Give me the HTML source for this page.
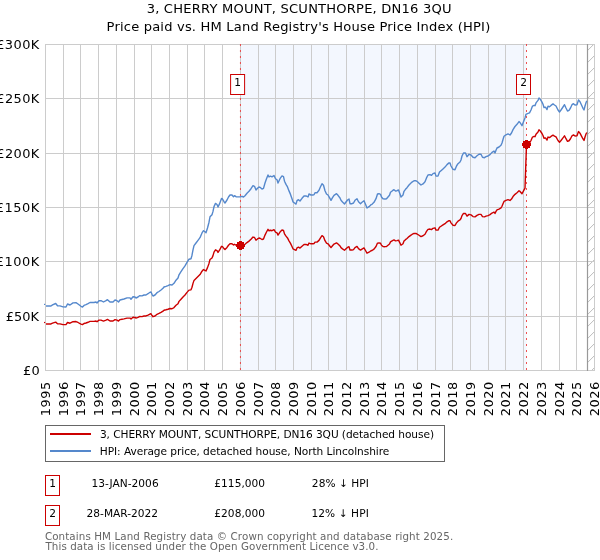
<!DOCTYPE html>
<html><head><meta charset="utf-8"><title>3, CHERRY MOUNT, SCUNTHORPE, DN16 3QU</title>
<style>html,body{margin:0;padding:0;background:#fff;}svg{display:block;}text{font-family:"DejaVu Sans","Liberation Sans",sans-serif;}</style>
</head><body>
<svg width="600" height="560" viewBox="0 0 600 560">
<rect x="0" y="0" width="600" height="560" fill="#fff"/>
<text transform="translate(146.65,12.85) scale(1.09,1)" font-size="12" letter-spacing="0.180" fill="#000">3, CHERRY MOUNT, SCUNTHORPE, DN16 3QU</text>
<text transform="translate(106.59,30.85) scale(1.09,1)" font-size="12" letter-spacing="0.161" fill="#000">Price paid vs. HM Land Registry's House Price Index (HPI)</text>
<rect x="240.45" y="44.5" width="286.05" height="326" fill="#f3f7fe"/>
<path d="M587.50,50.60 L593.60,44.50 M587.50,62.60 L594.50,55.60 M587.50,74.60 L594.50,67.60 M587.50,86.60 L594.50,79.60 M587.50,98.60 L594.50,91.60 M587.50,110.60 L594.50,103.60 M587.50,122.60 L594.50,115.60 M587.50,134.60 L594.50,127.60 M587.50,146.60 L594.50,139.60 M587.50,158.60 L594.50,151.60 M587.50,170.60 L594.50,163.60 M587.50,182.60 L594.50,175.60 M587.50,194.60 L594.50,187.60 M587.50,206.60 L594.50,199.60 M587.50,218.60 L594.50,211.60 M587.50,230.60 L594.50,223.60 M587.50,242.60 L594.50,235.60 M587.50,254.60 L594.50,247.60 M587.50,266.60 L594.50,259.60 M587.50,278.60 L594.50,271.60 M587.50,290.60 L594.50,283.60 M587.50,302.60 L594.50,295.60 M587.50,314.60 L594.50,307.60 M587.50,326.60 L594.50,319.60 M587.50,338.60 L594.50,331.60 M587.50,350.60 L594.50,343.60 M587.50,362.60 L594.50,355.60 M591.60,370.50 L594.50,367.60" stroke="#aaaaaa" stroke-width="0.8" fill="none"/>
<path d="M45.5,44 V371 M63.5,44 V371 M80.5,44 V371 M98.5,44 V371 M116.5,44 V371 M134.5,44 V371 M151.5,44 V371 M169.5,44 V371 M187.5,44 V371 M204.5,44 V371 M222.5,44 V371 M240.5,44 V371 M258.5,44 V371 M275.5,44 V371 M293.5,44 V371 M311.5,44 V371 M328.5,44 V371 M346.5,44 V371 M364.5,44 V371 M381.5,44 V371 M399.5,44 V371 M417.5,44 V371 M435.5,44 V371 M452.5,44 V371 M470.5,44 V371 M488.5,44 V371 M505.5,44 V371 M523.5,44 V371 M541.5,44 V371 M559.5,44 V371 M576.5,44 V371 M594.5,44 V371 M45,370.5 H595 M45,316.5 H595 M45,261.5 H595 M45,207.5 H595 M45,153.5 H595 M45,98.5 H595 M45,44.5 H595" stroke="#cccccc" stroke-width="1" fill="none"/>
<path d="M587.5,44 V371" stroke="#999999" stroke-width="1.2"/>
<path d="M240.45,44 V371" stroke="#ee3333" stroke-width="1" stroke-dasharray="2,4" stroke-dashoffset="0" opacity="0.85"/>
<path d="M526.5,44 V371" stroke="#ee3333" stroke-width="1" stroke-dasharray="2,4" stroke-dashoffset="0" opacity="0.85"/>
<polyline points="46.0,306.00 51.0,306.00 52.5,304.90 55.7,303.50 57.5,305.70 60.0,305.90 63.0,306.90 66.0,307.00 67.5,304.00 70.0,305.00 73.0,302.90 76.0,302.70 78.0,304.00 81.0,306.30 82.5,307.00 84.0,305.40 86.0,304.70 88.0,303.70 90.0,302.50 94.0,302.50 96.0,302.00 97.0,303.00 99.0,300.70 101.0,300.70 103.5,302.00 106.0,300.70 107.5,299.70 110.0,302.00 113.0,302.00 115.0,300.00 117.0,300.70 118.5,302.00 120.0,300.00 122.0,299.50 124.0,299.00 127.0,297.90 130.0,297.90 131.0,299.20 133.0,296.70 135.0,297.00 136.0,298.00 138.0,297.00 139.5,295.80 142.0,295.90 144.0,295.00 146.0,295.00 148.0,293.70 150.0,292.30 151.0,291.90 152.0,294.30 153.0,296.00 155.0,295.00 157.0,292.70 159.0,291.50 161.0,290.00 163.0,288.30 164.0,287.00 166.0,286.40 168.0,285.70 170.0,284.60 172.0,285.00 174.0,283.30 176.0,280.20 178.0,278.00 179.0,274.80 181.0,271.70 183.0,268.60 185.0,265.90 187.0,262.30 189.0,259.20 191.0,258.75 192.0,255.20 193.0,249.80 194.0,245.70 196.0,243.00 198.0,240.40 200.0,237.70 202.0,232.90 203.5,230.70 205.0,231.80 206.0,232.70 207.5,228.00 209.0,222.20 210.0,216.80 212.0,214.70 213.0,211.40 214.0,206.60 215.5,203.40 217.0,204.50 218.0,207.00 219.5,203.90 221.5,198.50 222.5,199.00 224.0,201.70 225.0,203.00 227.0,200.00 228.5,197.00 230.0,195.00 232.0,195.00 233.5,196.70 234.5,195.70 236.0,196.70 238.0,196.90 240.0,196.90 242.0,196.30 243.5,197.00 245.0,195.70 247.0,193.30 249.0,191.30 251.0,188.70 253.0,185.70 254.5,186.30 256.0,190.00 257.5,188.30 259.0,187.00 260.0,187.30 262.0,189.10 263.5,188.40 265.0,183.00 266.5,178.70 268.0,175.00 269.0,176.90 270.5,176.20 272.0,176.90 274.0,175.50 275.5,178.70 277.0,179.80 278.0,183.00 280.0,178.70 282.0,175.90 283.5,176.60 284.5,181.20 286.0,184.40 287.5,186.90 289.0,190.90 290.5,194.40 292.0,198.70 293.0,201.90 294.5,203.00 296.0,204.10 297.0,200.70 298.5,199.70 300.0,201.00 302.0,198.30 304.0,196.00 306.0,195.90 308.0,197.00 309.0,194.00 311.0,195.00 313.0,195.00 314.0,194.70 315.0,192.70 317.0,192.70 319.0,190.30 320.5,186.70 322.0,183.70 323.5,185.30 325.0,190.70 326.5,194.00 328.0,195.00 329.5,197.70 331.0,200.30 332.5,197.70 334.0,195.30 336.5,193.70 338.0,195.30 340.0,198.00 341.0,200.30 342.5,202.00 344.5,204.00 346.0,202.00 347.5,200.00 349.0,199.00 350.0,203.70 352.0,203.70 353.5,203.00 355.0,200.30 357.0,198.70 358.5,201.70 360.5,203.70 362.0,202.30 364.0,200.70 365.5,204.30 367.0,208.00 369.0,206.70 371.0,204.70 372.0,204.30 374.0,202.30 376.0,198.70 377.5,194.00 379.0,193.70 380.5,194.30 381.5,197.00 383.0,198.70 385.0,199.00 386.5,198.70 388.0,197.00 389.5,195.30 390.5,192.30 392.5,190.70 394.0,189.70 395.5,191.00 397.0,190.70 398.5,190.00 400.0,194.00 401.0,197.00 403.0,195.00 404.0,191.30 405.5,189.30 407.0,187.70 409.0,185.00 411.0,183.00 412.0,182.10 414.0,180.70 416.0,180.70 417.5,181.80 419.0,183.20 421.0,185.00 423.0,183.90 425.0,181.80 426.5,177.90 428.0,175.00 430.0,174.60 431.5,175.40 433.0,173.60 435.0,172.90 436.0,176.10 438.0,176.10 439.5,172.10 441.0,170.70 443.0,168.90 445.0,167.10 447.0,164.60 449.0,162.90 450.0,163.00 451.0,166.00 453.0,169.30 455.0,169.70 456.5,166.00 458.0,163.70 460.0,162.00 461.0,160.00 462.0,156.00 463.5,153.00 465.5,153.00 467.0,156.70 469.0,154.30 471.0,155.00 473.0,157.30 475.0,157.70 477.0,155.70 479.0,154.30 481.0,154.30 482.5,157.30 484.5,157.70 486.0,156.70 488.0,156.00 490.0,154.60 492.0,152.40 494.0,151.10 495.0,152.90 496.0,150.20 497.0,148.00 499.0,147.00 501.0,145.30 502.0,143.00 503.0,139.50 504.0,136.30 506.0,134.80 508.0,133.90 510.0,135.00 511.5,133.00 513.0,129.60 515.0,126.50 517.0,124.30 519.0,121.60 520.0,122.50 522.0,125.70 523.5,121.80 525.0,117.90 526.0,114.30 527.5,113.60 529.5,112.90 531.0,110.00 532.5,106.10 534.0,105.40 535.0,105.70 536.0,102.90 538.0,100.40 539.0,97.90 540.5,99.60 542.0,102.10 543.0,104.30 544.0,107.50 545.5,107.10 547.0,109.60 548.0,106.10 549.5,106.80 551.0,105.40 553.0,103.90 554.5,105.00 556.0,106.00 558.0,110.00 559.5,112.00 561.0,110.00 563.0,107.00 564.5,104.70 566.0,108.00 567.5,111.00 569.0,110.30 570.5,108.00 572.0,104.70 573.5,103.70 575.0,105.00 577.0,104.70 578.5,99.90 580.0,101.70 581.5,105.00 583.0,108.30 584.0,110.00 585.0,106.00 586.0,102.70 586.8,100.90" fill="none" stroke="#5588cc" stroke-width="1.4" stroke-linejoin="round"/>
<polyline points="46.0,323.93 51.0,323.93 52.5,323.14 55.7,322.13 57.5,323.71 60.0,323.86 63.0,324.58 66.0,324.65 67.5,322.49 70.0,323.21 73.0,321.69 76.0,321.55 78.0,322.49 81.0,324.15 82.5,324.65 84.0,323.50 86.0,322.99 88.0,322.27 90.0,321.40 94.0,321.40 96.0,321.04 97.0,321.76 99.0,320.10 101.0,320.10 103.5,321.04 106.0,320.10 107.5,319.38 110.0,321.04 113.0,321.04 115.0,319.60 117.0,320.10 118.5,321.04 120.0,319.60 122.0,319.24 124.0,318.88 127.0,318.08 130.0,318.08 131.0,319.02 133.0,317.22 135.0,317.43 136.0,318.15 138.0,317.43 139.5,316.57 142.0,316.64 144.0,315.99 146.0,315.99 148.0,315.05 150.0,314.04 151.0,313.75 152.0,315.48 153.0,316.71 155.0,315.99 157.0,314.33 159.0,313.46 161.0,312.38 163.0,311.15 164.0,310.21 166.0,309.78 168.0,309.27 170.0,308.48 172.0,308.77 174.0,307.54 176.0,305.30 178.0,303.72 179.0,301.40 181.0,299.17 183.0,296.93 185.0,294.98 187.0,292.38 189.0,290.14 191.0,289.82 192.0,287.25 193.0,283.35 194.0,280.39 196.0,278.44 198.0,276.57 200.0,274.62 202.0,271.15 203.5,269.56 205.0,270.36 206.0,271.01 207.5,267.62 209.0,263.43 210.0,259.53 212.0,258.01 213.0,255.63 214.0,252.16 215.5,249.85 217.0,250.65 218.0,252.45 219.5,250.21 221.5,246.32 222.5,246.68 224.0,248.63 225.0,249.56 227.0,247.40 228.5,245.23 230.0,243.79 232.0,243.79 233.5,245.02 234.5,244.29 236.0,245.02 238.0,245.16 240.0,245.16 242.0,244.73 243.5,245.23 245.0,244.29 247.0,242.56 249.0,241.12 251.0,239.24 253.0,237.07 254.5,237.51 256.0,240.18 257.5,238.95 259.0,238.01 260.0,238.23 262.0,239.53 263.5,239.02 265.0,235.12 266.5,232.02 268.0,229.35 269.0,230.72 270.5,230.22 272.0,230.72 274.0,229.71 275.5,232.02 277.0,232.81 278.0,235.12 280.0,232.02 282.0,230.00 283.5,230.50 284.5,233.83 286.0,236.14 287.5,237.94 289.0,240.83 290.5,243.36 292.0,246.46 293.0,248.77 294.5,249.56 296.0,250.36 297.0,247.90 298.5,247.18 300.0,248.12 302.0,246.17 304.0,244.51 306.0,244.44 308.0,245.23 309.0,243.07 311.0,243.79 313.0,243.79 314.0,243.57 315.0,242.13 317.0,242.13 319.0,240.40 320.5,237.80 322.0,235.63 323.5,236.79 325.0,240.68 326.5,243.07 328.0,243.79 329.5,245.74 331.0,247.62 332.5,245.74 334.0,244.01 336.5,242.85 338.0,244.01 340.0,245.95 341.0,247.62 342.5,248.84 344.5,250.29 346.0,248.84 347.5,247.40 349.0,246.68 350.0,250.07 352.0,250.07 353.5,249.56 355.0,247.62 357.0,246.46 358.5,248.63 360.5,250.07 362.0,249.06 364.0,247.90 365.5,250.50 367.0,253.18 369.0,252.24 371.0,250.79 372.0,250.50 374.0,249.06 376.0,246.46 377.5,243.07 379.0,242.85 380.5,243.28 381.5,245.23 383.0,246.46 385.0,246.68 386.5,246.46 388.0,245.23 389.5,244.01 390.5,241.84 392.5,240.68 394.0,239.96 395.5,240.90 397.0,240.68 398.5,240.18 400.0,243.07 401.0,245.23 403.0,243.79 404.0,241.12 405.5,239.67 407.0,238.52 409.0,236.57 411.0,235.12 412.0,234.48 414.0,233.46 416.0,233.46 417.5,234.26 419.0,235.27 421.0,236.57 423.0,235.77 425.0,234.26 426.5,231.44 428.0,229.35 430.0,229.06 431.5,229.64 433.0,228.34 435.0,227.83 436.0,230.14 438.0,230.14 439.5,227.26 441.0,226.24 443.0,224.94 445.0,223.65 447.0,221.84 449.0,220.61 450.0,220.69 451.0,222.85 453.0,225.23 455.0,225.52 456.5,222.85 458.0,221.19 460.0,219.96 461.0,218.52 462.0,215.63 463.5,213.47 465.5,213.47 467.0,216.14 469.0,214.40 471.0,214.91 473.0,216.57 475.0,216.86 477.0,215.41 479.0,214.40 481.0,214.40 482.5,216.57 484.5,216.86 486.0,216.14 488.0,215.63 490.0,214.62 492.0,213.03 494.0,212.09 495.0,213.39 496.0,211.44 497.0,209.86 499.0,209.13 501.0,207.91 502.0,206.25 503.0,203.72 504.0,201.41 506.0,200.32 508.0,199.67 510.0,200.47 511.5,199.03 513.0,196.57 515.0,194.33 517.0,192.74 519.0,190.79 520.0,191.44 522.0,193.75 523.5,190.94 525.0,188.12 526.5,144.47 527.5,143.66 529.5,143.04 531.0,140.48 532.5,137.03 534.0,136.42 535.0,136.68 536.0,134.21 538.0,132.00 539.0,129.79 540.5,131.30 542.0,133.50 543.0,135.45 544.0,138.27 545.5,137.92 547.0,140.13 548.0,137.03 549.5,137.65 551.0,136.42 553.0,135.09 554.5,136.06 556.0,136.95 558.0,140.48 559.5,142.24 561.0,140.48 563.0,137.83 564.5,135.80 566.0,138.71 567.5,141.36 569.0,140.74 570.5,138.71 572.0,135.80 573.5,134.92 575.0,136.06 577.0,135.80 578.5,131.56 580.0,133.15 581.5,136.06 583.0,138.98 584.0,140.48 585.0,136.95 586.0,134.03 586.8,132.44" fill="none" stroke="#cc0000" stroke-width="1.4" stroke-linejoin="round"/>
<rect x="44" y="303.8" width="1.2" height="1.2" fill="#5588cc"/><rect x="44" y="321.9" width="1.2" height="1.2" fill="#cc0000"/>
<circle cx="240.45" cy="245.53" r="4.4" fill="#cc0000" shape-rendering="crispEdges"/>
<circle cx="526.5" cy="144.47" r="4.4" fill="#cc0000" shape-rendering="crispEdges"/>
<rect x="230.6" y="74.5" width="14" height="20" fill="#fff" stroke="#cc0000" stroke-width="1"/>
<text x="237.60" y="86.1" font-size="10.6" text-anchor="middle" fill="#000">1</text>
<rect x="516.5" y="74.5" width="14" height="20" fill="#fff" stroke="#cc0000" stroke-width="1"/>
<text x="523.50" y="86.1" font-size="10.6" text-anchor="middle" fill="#000">2</text>
<text transform="translate(22.97,374.80) scale(1.08,1)" font-size="12.0" letter-spacing="0.209" fill="#000">£0</text>
<text transform="translate(5.82,320.80) scale(1.08,1)" font-size="12.0" letter-spacing="0.013" fill="#000">£50K</text>
<text transform="translate(-4.20,265.80) scale(1.08,1)" font-size="12.0" letter-spacing="0.490" fill="#000">£100K</text>
<text transform="translate(-4.20,211.80) scale(1.08,1)" font-size="12.0" letter-spacing="0.490" fill="#000">£150K</text>
<text transform="translate(-3.64,157.80) scale(1.08,1)" font-size="12.0" letter-spacing="0.361" fill="#000">£200K</text>
<text transform="translate(-3.64,102.80) scale(1.08,1)" font-size="12.0" letter-spacing="0.361" fill="#000">£250K</text>
<text transform="translate(-3.82,48.80) scale(1.08,1)" font-size="12.0" letter-spacing="0.401" fill="#000">£300K</text>
<text transform="translate(49.85,416.13) rotate(-90) scale(1.08,1)" font-size="12.0" letter-spacing="0.477" fill="#000">1995</text>
<text transform="translate(67.85,416.13) rotate(-90) scale(1.08,1)" font-size="12.0" letter-spacing="0.477" fill="#000">1996</text>
<text transform="translate(84.85,416.13) rotate(-90) scale(1.08,1)" font-size="12.0" letter-spacing="0.477" fill="#000">1997</text>
<text transform="translate(102.85,416.13) rotate(-90) scale(1.08,1)" font-size="12.0" letter-spacing="0.477" fill="#000">1998</text>
<text transform="translate(120.85,416.13) rotate(-90) scale(1.08,1)" font-size="12.0" letter-spacing="0.477" fill="#000">1999</text>
<text transform="translate(138.85,416.13) rotate(-90) scale(1.08,1)" font-size="12.0" letter-spacing="0.477" fill="#000">2000</text>
<text transform="translate(155.85,416.13) rotate(-90) scale(1.08,1)" font-size="12.0" letter-spacing="0.477" fill="#000">2001</text>
<text transform="translate(173.85,416.13) rotate(-90) scale(1.08,1)" font-size="12.0" letter-spacing="0.477" fill="#000">2002</text>
<text transform="translate(191.85,416.13) rotate(-90) scale(1.08,1)" font-size="12.0" letter-spacing="0.477" fill="#000">2003</text>
<text transform="translate(208.85,416.13) rotate(-90) scale(1.08,1)" font-size="12.0" letter-spacing="0.477" fill="#000">2004</text>
<text transform="translate(226.85,416.13) rotate(-90) scale(1.08,1)" font-size="12.0" letter-spacing="0.477" fill="#000">2005</text>
<text transform="translate(244.85,416.13) rotate(-90) scale(1.08,1)" font-size="12.0" letter-spacing="0.477" fill="#000">2006</text>
<text transform="translate(262.85,416.13) rotate(-90) scale(1.08,1)" font-size="12.0" letter-spacing="0.477" fill="#000">2007</text>
<text transform="translate(279.85,416.13) rotate(-90) scale(1.08,1)" font-size="12.0" letter-spacing="0.477" fill="#000">2008</text>
<text transform="translate(297.85,416.13) rotate(-90) scale(1.08,1)" font-size="12.0" letter-spacing="0.477" fill="#000">2009</text>
<text transform="translate(315.85,416.13) rotate(-90) scale(1.08,1)" font-size="12.0" letter-spacing="0.477" fill="#000">2010</text>
<text transform="translate(332.85,416.13) rotate(-90) scale(1.08,1)" font-size="12.0" letter-spacing="0.477" fill="#000">2011</text>
<text transform="translate(350.85,416.13) rotate(-90) scale(1.08,1)" font-size="12.0" letter-spacing="0.477" fill="#000">2012</text>
<text transform="translate(368.85,416.13) rotate(-90) scale(1.08,1)" font-size="12.0" letter-spacing="0.477" fill="#000">2013</text>
<text transform="translate(385.85,416.13) rotate(-90) scale(1.08,1)" font-size="12.0" letter-spacing="0.477" fill="#000">2014</text>
<text transform="translate(403.85,416.13) rotate(-90) scale(1.08,1)" font-size="12.0" letter-spacing="0.477" fill="#000">2015</text>
<text transform="translate(421.85,416.13) rotate(-90) scale(1.08,1)" font-size="12.0" letter-spacing="0.477" fill="#000">2016</text>
<text transform="translate(439.85,416.13) rotate(-90) scale(1.08,1)" font-size="12.0" letter-spacing="0.477" fill="#000">2017</text>
<text transform="translate(456.85,416.13) rotate(-90) scale(1.08,1)" font-size="12.0" letter-spacing="0.477" fill="#000">2018</text>
<text transform="translate(474.85,416.13) rotate(-90) scale(1.08,1)" font-size="12.0" letter-spacing="0.477" fill="#000">2019</text>
<text transform="translate(492.85,416.13) rotate(-90) scale(1.08,1)" font-size="12.0" letter-spacing="0.477" fill="#000">2020</text>
<text transform="translate(509.85,416.13) rotate(-90) scale(1.08,1)" font-size="12.0" letter-spacing="0.477" fill="#000">2021</text>
<text transform="translate(527.85,416.13) rotate(-90) scale(1.08,1)" font-size="12.0" letter-spacing="0.477" fill="#000">2022</text>
<text transform="translate(545.85,416.13) rotate(-90) scale(1.08,1)" font-size="12.0" letter-spacing="0.477" fill="#000">2023</text>
<text transform="translate(563.85,416.13) rotate(-90) scale(1.08,1)" font-size="12.0" letter-spacing="0.477" fill="#000">2024</text>
<text transform="translate(580.85,416.13) rotate(-90) scale(1.08,1)" font-size="12.0" letter-spacing="0.477" fill="#000">2025</text>
<text transform="translate(598.85,416.13) rotate(-90) scale(1.08,1)" font-size="12.0" letter-spacing="0.477" fill="#000">2026</text>
<rect x="45.5" y="425.5" width="399" height="36" fill="#fff" stroke="#666666" stroke-width="1"/>
<path d="M50,434 H91" stroke="#cc0000" stroke-width="2"/>
<path d="M50,451 H91" stroke="#5588cc" stroke-width="2"/>
<text x="99.95" y="438.00" font-size="10.6" letter-spacing="-0.072" fill="#000">3, CHERRY MOUNT, SCUNTHORPE, DN16 3QU (detached house)</text>
<text x="99.74" y="454.60" font-size="10.6" letter-spacing="-0.054" fill="#000">HPI: Average price, detached house, North Lincolnshire</text>
<rect x="45.5" y="475.5" width="14" height="20" fill="#fff" stroke="#cc0000" stroke-width="1"/>
<text x="52.5" y="487.10" font-size="10.6" text-anchor="middle" fill="#000">1</text>
<text x="91.53" y="487.10" font-size="10.6" letter-spacing="0.032" fill="#000">13-JAN-2006</text>
<text x="214.36" y="487.10" font-size="10.6" letter-spacing="0.017" fill="#000">£115,000</text>
<text x="311.86" y="487.10" font-size="10.6" letter-spacing="0.036" fill="#000">28% ↓ HPI</text>
<rect x="45.5" y="505.5" width="14" height="20" fill="#fff" stroke="#cc0000" stroke-width="1"/>
<text x="52.5" y="517.10" font-size="10.6" text-anchor="middle" fill="#000">2</text>
<text x="86.56" y="517.10" font-size="10.6" letter-spacing="0.016" fill="#000">28-MAR-2022</text>
<text x="214.36" y="517.10" font-size="10.6" letter-spacing="0.017" fill="#000">£208,000</text>
<text x="311.43" y="517.10" font-size="10.6" letter-spacing="0.089" fill="#000">12% ↓ HPI</text>
<text x="44.88" y="539.75" font-size="10.3" letter-spacing="0.108" fill="#666666">Contains HM Land Registry data © Crown copyright and database right 2025.</text>
<text x="45.50" y="550.10" font-size="10.3" letter-spacing="0.083" fill="#666666">This data is licensed under the Open Government Licence v3.0.</text>
</svg>
</body></html>
